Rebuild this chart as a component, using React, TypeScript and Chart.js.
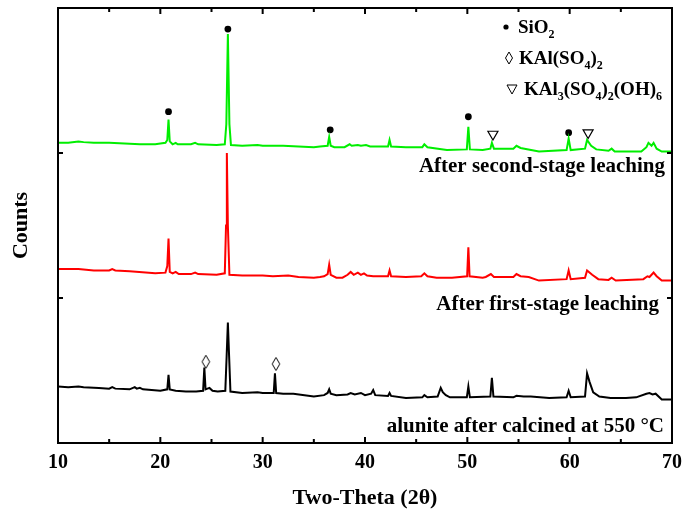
import React, { useEffect, useRef } from 'react';
import { Chart, registerables } from 'chart.js';

Chart.register(...registerables);

// ---------- data ----------
const xTickValues = [10, 20, 30, 40, 50, 60, 70];
const yTickValues = [0, 1, 2, 3];

const seriesNames = [
  'After second-stage leaching',
  'After first-stage leaching',
  'alunite after calcined at 550 °C',
];

const secondStage: [number, number][] = [
  [10.0, 2.07], [11.0, 2.07], [12.0, 2.08], [12.5, 2.075], [13.5, 2.07], [15.0, 2.07],
  [16.5, 2.065], [18.0, 2.06], [19.5, 2.06], [20.0, 2.065], [20.5, 2.07], [20.68, 2.09],
  [20.8, 2.23], [20.92, 2.08], [21.2, 2.06], [21.5, 2.07], [21.7, 2.06], [23.0, 2.06],
  [23.4, 2.07], [23.7, 2.06], [25.5, 2.055], [26.3, 2.06], [26.45, 2.2], [26.6, 2.82],
  [26.75, 2.2], [26.9, 2.055], [28.0, 2.05], [29.5, 2.055], [30.0, 2.05], [31.0, 2.05],
  [32.0, 2.05], [33.5, 2.045], [35.0, 2.04], [35.6, 2.045], [36.35, 2.05], [36.5, 2.11],
  [36.65, 2.05], [37.0, 2.04], [38.0, 2.04], [38.5, 2.06], [38.7, 2.05], [39.3, 2.055],
  [39.6, 2.05], [40.1, 2.055], [40.5, 2.045], [42.25, 2.045], [42.4, 2.09], [42.55, 2.045],
  [44.0, 2.04], [45.6, 2.04], [45.8, 2.06], [46.1, 2.04], [48.0, 2.02], [49.95, 2.025],
  [50.1, 2.18], [50.25, 2.025], [51.5, 2.02], [52.25, 2.03], [52.4, 2.07], [52.6, 2.03],
  [54.5, 2.03], [54.8, 2.05], [55.2, 2.035], [57.0, 2.01], [59.7, 2.02], [59.9, 2.1],
  [60.1, 2.02], [61.5, 2.03], [61.7, 2.09], [62.1, 2.05], [62.6, 2.025], [63.8, 2.015],
  [64.1, 2.03], [64.4, 2.01], [67.0, 2.01], [67.5, 2.04], [67.7, 2.07], [68.0, 2.05],
  [68.2, 2.07], [68.5, 2.03], [69.0, 2.01], [70.0, 2.01],
];

const firstStage: [number, number][] = [
  [10.0, 1.2], [12.0, 1.2], [13.5, 1.19], [15.0, 1.19], [15.3, 1.2], [15.6, 1.19],
  [17.0, 1.185], [19.5, 1.17], [20.5, 1.175], [20.68, 1.22], [20.8, 1.41], [20.92, 1.18],
  [21.2, 1.17], [21.5, 1.18], [21.8, 1.165], [23.0, 1.165], [23.4, 1.175], [23.7, 1.165],
  [25.5, 1.16], [26.3, 1.17], [26.42, 1.5], [26.5, 2.0], [26.6, 1.5], [26.75, 1.16],
  [28.0, 1.155], [30.0, 1.155], [31.0, 1.15], [32.5, 1.155], [33.5, 1.145], [35.0, 1.14],
  [35.6, 1.145], [36.0, 1.15], [36.35, 1.165], [36.5, 1.23], [36.65, 1.16], [37.2, 1.14],
  [37.8, 1.14], [38.3, 1.16], [38.6, 1.18], [38.9, 1.16], [39.3, 1.175], [39.6, 1.16],
  [39.9, 1.17], [40.2, 1.155], [40.8, 1.15], [42.25, 1.15], [42.4, 1.19], [42.55, 1.15],
  [44.0, 1.145], [45.5, 1.15], [45.8, 1.17], [46.1, 1.15], [47.0, 1.14], [48.5, 1.14],
  [49.98, 1.15], [50.1, 1.35], [50.22, 1.15], [51.5, 1.14], [51.8, 1.145], [52.3, 1.165],
  [52.6, 1.145], [54.5, 1.145], [54.8, 1.165], [55.2, 1.15], [56.0, 1.145], [57.0, 1.12],
  [59.7, 1.13], [59.9, 1.19], [60.1, 1.13], [61.5, 1.14], [61.7, 1.19], [62.2, 1.16],
  [62.8, 1.13], [63.8, 1.125], [64.1, 1.14], [64.5, 1.12], [67.2, 1.13], [67.6, 1.15],
  [67.8, 1.145], [68.2, 1.175], [68.5, 1.15], [69.0, 1.12], [70.0, 1.12],
];

const calcined: [number, number][] = [
  [10.0, 0.39], [11.0, 0.385], [12.0, 0.39], [12.5, 0.385], [14.0, 0.38], [15.0, 0.375],
  [15.3, 0.385], [15.6, 0.375], [17.0, 0.37], [17.5, 0.385], [17.7, 0.375], [18.0, 0.38],
  [18.3, 0.37], [20.0, 0.36], [20.68, 0.37], [20.8, 0.47], [20.92, 0.37], [21.5, 0.36],
  [22.5, 0.355], [23.5, 0.355], [24.18, 0.36], [24.3, 0.52], [24.42, 0.37], [24.8, 0.38],
  [25.1, 0.36], [25.6, 0.355], [26.35, 0.36], [26.48, 0.6], [26.6, 0.83], [26.72, 0.6],
  [26.85, 0.355], [28.0, 0.345], [29.5, 0.35], [30.0, 0.345], [31.08, 0.345], [31.2, 0.48],
  [31.32, 0.345], [32.0, 0.34], [33.0, 0.34], [35.0, 0.32], [36.0, 0.33], [36.35, 0.345],
  [36.5, 0.37], [36.65, 0.34], [37.2, 0.33], [38.3, 0.335], [38.6, 0.345], [39.0, 0.335],
  [39.6, 0.345], [40.0, 0.33], [40.6, 0.34], [40.8, 0.365], [41.0, 0.33], [42.25, 0.325],
  [42.4, 0.345], [42.55, 0.325], [44.0, 0.31], [45.6, 0.315], [45.8, 0.33], [46.1, 0.315],
  [47.1, 0.32], [47.4, 0.38], [47.6, 0.35], [47.9, 0.33], [48.3, 0.315], [49.95, 0.315],
  [50.1, 0.39], [50.25, 0.315], [52.25, 0.32], [52.4, 0.45], [52.55, 0.32], [54.5, 0.315],
  [54.8, 0.325], [55.5, 0.32], [56.2, 0.32], [58.0, 0.31], [59.7, 0.315], [59.9, 0.36],
  [60.1, 0.315], [61.5, 0.32], [61.7, 0.48], [61.95, 0.42], [62.3, 0.35], [62.9, 0.32],
  [64.0, 0.31], [65.5, 0.31], [66.5, 0.315], [67.5, 0.34], [67.8, 0.345], [68.1, 0.335],
  [68.4, 0.34], [69.0, 0.3], [70.0, 0.3],
];

const sio2Marks: [number, number][] = [
  [20.8, 2.285], [26.6, 2.855], [36.6, 2.16], [50.1, 2.25], [59.9, 2.14],
];
const kalso4Marks: [number, number][] = [
  [24.45, 0.56], [31.3, 0.545],
];
const aluniteMarks: [number, number][] = [
  [52.5, 2.13], [61.8, 2.14],
];

// ---------- styling helpers ----------
const FONT = '"Liberation Serif", "Times New Roman", serif';

const toXY = (arr: [number, number][]) => arr.map(([x, y]) => ({ x, y }));

function makeDiamond(): HTMLCanvasElement {
  const c = document.createElement('canvas');
  c.width = 10;
  c.height = 15;
  const g = c.getContext('2d')!;
  g.fillStyle = '#fff';
  g.strokeStyle = '#000';
  g.lineWidth = 1;
  g.beginPath();
  g.moveTo(5, 1);
  g.lineTo(8.8, 7.5);
  g.lineTo(5, 14);
  g.lineTo(1.2, 7.5);
  g.closePath();
  g.fill();
  g.stroke();
  return c;
}

function drawRich(ctx: CanvasRenderingContext2D, parts: [string, boolean][], x: number, y: number, size: number) {
  let cx = x;
  for (const [txt, sub] of parts) {
    ctx.font = `bold ${sub ? Math.round(size * 0.65) : size}px ${FONT}`;
    ctx.fillText(txt, cx, sub ? y + size * 0.28 : y);
    cx += ctx.measureText(txt).width;
  }
}

const framePlugin = {
  id: 'frame',
  afterDatasetsDraw(chart: any) {
    const { ctx, chartArea, scales } = chart;
    const { left, right, top, bottom } = chartArea;
    const xs = scales.x;
    const ys = scales.y;
    ctx.save();
    ctx.strokeStyle = '#000';
    ctx.lineWidth = 2;
    ctx.strokeRect(left, top, right - left, bottom - top);
    ctx.beginPath();
    for (let v = xTickValues[0]; v <= xTickValues[xTickValues.length - 1]; v += 5) {
      const px = xs.getPixelForValue(v);
      const len = v % 10 === 0 ? 6 : 4;
      ctx.moveTo(px, bottom);
      ctx.lineTo(px, bottom - len);
      ctx.moveTo(px, top);
      ctx.lineTo(px, top + len);
    }
    for (const v of yTickValues) {
      const py = ys.getPixelForValue(v);
      ctx.moveTo(left, py);
      ctx.lineTo(left + 5, py);
      ctx.moveTo(right, py);
      ctx.lineTo(right - 5, py);
    }
    ctx.stroke();

    // series labels
    ctx.fillStyle = '#000';
    ctx.textAlign = 'right';
    ctx.textBaseline = 'alphabetic';
    ctx.font = `bold 21px ${FONT}`;
    ctx.fillText(seriesNames[0], 665, 172);
    ctx.fillText(seriesNames[1], 659, 310);
    ctx.fillText(seriesNames[2], 664, 432);

    // legend
    ctx.textAlign = 'left';
    ctx.beginPath();
    ctx.arc(506, 27, 2.6, 0, Math.PI * 2);
    ctx.fill();
    drawRich(ctx, [['SiO', false], ['2', true]], 518, 33, 19);

    ctx.lineWidth = 1;
    ctx.beginPath();
    ctx.moveTo(509, 52);
    ctx.lineTo(512.5, 58);
    ctx.lineTo(509, 64);
    ctx.lineTo(505.5, 58);
    ctx.closePath();
    ctx.stroke();
    drawRich(ctx, [['KAl(SO', false], ['4', true], [')', false], ['2', true]], 519, 64, 19);

    ctx.beginPath();
    ctx.moveTo(507, 85);
    ctx.lineTo(517, 85);
    ctx.lineTo(512, 94);
    ctx.closePath();
    ctx.stroke();
    drawRich(
      ctx,
      [['KAl', false], ['3', true], ['(SO', false], ['4', true], [')', false], ['2', true], ['(OH)', false], ['6', true]],
      524, 95, 19,
    );
    ctx.restore();
  },
};

export default function App() {
  const ref = useRef<HTMLCanvasElement | null>(null);

  useEffect(() => {
    if (!ref.current) return;
    const diamond = makeDiamond();
    const chart = new Chart(ref.current, {
      type: 'line',
      data: {
        datasets: [
          { label: seriesNames[0], data: toXY(secondStage), borderColor: '#00ee00', borderWidth: 2, pointRadius: 0, tension: 0 },
          { label: seriesNames[1], data: toXY(firstStage), borderColor: '#ff0000', borderWidth: 2, pointRadius: 0, tension: 0 },
          { label: seriesNames[2], data: toXY(calcined), borderColor: '#000000', borderWidth: 2, pointRadius: 0, tension: 0 },
          { label: 'SiO2', data: toXY(sio2Marks), showLine: false, pointStyle: 'circle', pointRadius: 3.4, backgroundColor: '#000', borderColor: '#000', borderWidth: 0 },
          { label: 'KAl(SO4)2', data: toXY(kalso4Marks), showLine: false, pointStyle: diamond as any, pointRadius: 6 },
          { label: 'KAl3(SO4)2(OH)6', data: toXY(aluniteMarks), showLine: false, pointStyle: 'triangle', rotation: 180, pointRadius: 5.8, backgroundColor: '#fff', borderColor: '#000', borderWidth: 1.2 } as any,
        ],
      },
      options: {
        animation: false,
        responsive: false,
        devicePixelRatio: 1,
        layout: { padding: { top: 8, right: 12, left: 0, bottom: 0 } },
        plugins: { legend: { display: false }, tooltip: { enabled: false } },
        scales: {
          x: {
            type: 'linear',
            min: 10,
            max: 70,
            afterFit: (s: any) => { s.height = 70; s.paddingLeft = 0; s.paddingRight = 0; },
            ticks: { stepSize: 10, color: '#000', padding: 8, font: { family: FONT, size: 20, weight: 'bold' } },
            grid: { display: false, drawTicks: false },
            border: { display: false },
            title: { display: true, text: 'Two-Theta (2θ)', color: '#000', padding: { top: 0, bottom: 1 }, font: { family: FONT, size: 22, weight: 'bold' } },
          },
          y: {
            type: 'linear',
            min: 0,
            max: 3,
            afterFit: (s: any) => { s.width = 58; s.paddingTop = 0; s.paddingBottom = 0; },
            ticks: { display: false, stepSize: 1 },
            grid: { display: false, drawTicks: false },
            border: { display: false },
            title: { display: true, text: 'Counts', color: '#000', padding: { top: 8, bottom: 0 }, font: { family: FONT, size: 22, weight: 'bold' } },
          },
        },
      },
      plugins: [framePlugin],
    });
    return () => chart.destroy();
  }, []);

  return (
    <div style={{ position: 'fixed', left: 0, top: 0, width: 684, height: 513, background: '#fff' }}>
      <canvas ref={ref} width={684} height={513} style={{ width: 684, height: 513 }} />
    </div>
  );
}
